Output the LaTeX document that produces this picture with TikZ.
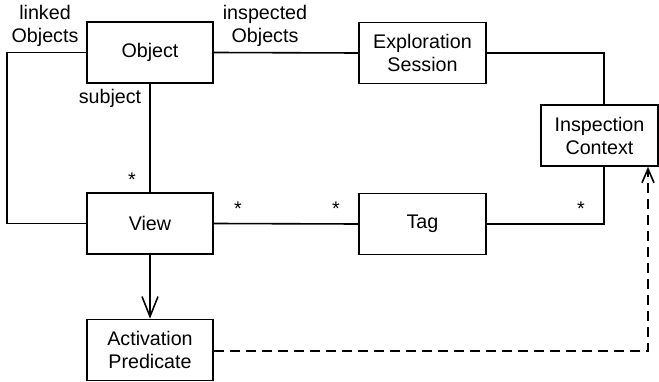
\documentclass[tikz,border=0pt]{standalone}
\usepackage{fontspec}
\setmainfont{Liberation Sans}
\usetikzlibrary{arrows.meta}
\begin{document}
\begin{tikzpicture}[x=1pt,y=-1pt,
  cls/.style={draw,line width=1.6pt,minimum width=126pt,minimum height=61pt,align=center,inner sep=0pt,font=\fontsize{19.7}{23}\selectfont},
  conn/.style={line width=1.6pt},
  lbl/.style={align=center,inner sep=0pt,font=\fontsize{19.7}{23}\selectfont},
  star/.style={inner sep=0pt,font=\fontsize{19.7}{23}\selectfont}]
\useasboundingbox (0,0) rectangle (659,382);
\node[cls] (obj) at (150,52.5) {Object};
\node[cls,minimum width=127pt] (exp) at (422.5,53) {Exploration\\Session};
\node[cls,minimum width=117pt] (ins) at (599.5,135.5) {Inspection\\Context};
\node[cls] (view) at (150,223.5) {View};
\node[cls,minimum width=127pt] (tag) at (422.5,224) {Tag};
\node[cls] (act) at (150,350) {Activation\\Predicate};
\coordinate (lk) at (7,52.5);
\coordinate (lk2) at (7,223.5);
\coordinate (ec) at (604,53);
\coordinate (tc) at (604,224);
\coordinate (dc) at (648,351);
\draw[conn] (obj.west) -- (lk) -- (lk2) -- (view.west);
\draw[conn] (obj.east) -- (exp.west);
\draw[conn] (exp.east) -- (ec) -- (ins.north -| ec);
\draw[conn] (obj.south) -- (view.north);
\draw[conn] (view.east) -- (tag.west);
\draw[conn] (tag.east) -- (tc) -- (ins.south -| tc);
\draw[conn,-{Straight Barb[length=20pt,width=16pt,line width=1.6pt]}] (view.south) -- (act.north);
\draw[conn,dash pattern=on 10pt off 6pt,-{Straight Barb[length=14pt,width=12pt,line width=1.6pt]}] (act.east |- dc) -- (dc) -- (ins.south -| dc);
\node[lbl] (l1) at (45,26) {linked\\Objects};
\node[lbl] (l2) at (265,26) {inspected\\Objects};
\node[lbl] (l3) at (110,98) {subject};
\node[star] (s1) at (132,180) {*};
\node[star] (s2) at (238,209) {*};
\node[star] (s3) at (336,209) {*};
\node[star] (s4) at (581,209) {*};
\end{tikzpicture}
\end{document}
